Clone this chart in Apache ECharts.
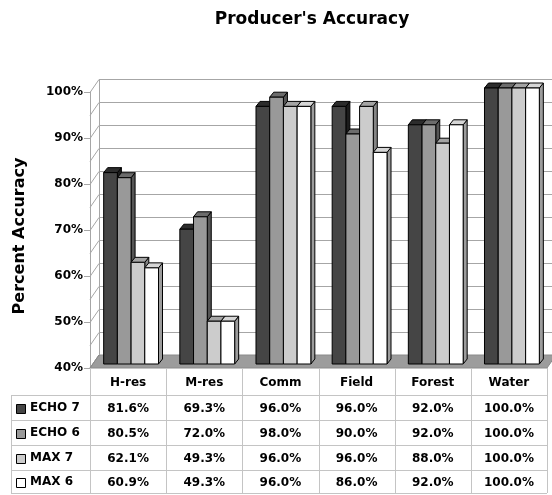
<!DOCTYPE html>
<html>
<head>
<meta charset="utf-8">
<script src="https://cdn.jsdelivr.net/npm/echarts@6/dist/echarts.min.js"></script>
<style>
  html, body { margin: 0; padding: 0; background: #fff; }
  #chart { width: 552px; height: 495px; }
</style>
</head>
<body>
<div id="chart"></div>
<script>
// Producer's accuracy per land-cover class, four classifiers
const categories = ['H-res', 'M-res', 'Comm', 'Field', 'Forest', 'Water'];
const seriesNames = ['ECHO 7', 'ECHO 6', 'MAX 7', 'MAX 6'];
const echo7 = [81.6, 69.3, 96.0, 96.0, 92.0, 100.0];
const echo6 = [80.5, 72.0, 98.0, 90.0, 92.0, 100.0];
const max7  = [62.1, 49.3, 96.0, 96.0, 88.0, 100.0];
const max6  = [60.9, 49.3, 96.0, 86.0, 92.0, 100.0];
const yMin = 40, yMax = 100, yStep = 10, gridStep = 5;

const seriesValues = [echo7, echo6, max7, max6];

// shading for the pseudo-3D bars: front, top and right faces
const frontFill = ['#454545', '#999999', '#cccccc', '#ffffff'];
const topFill   = ['#2c2c2c', '#6c6c6c', '#a4a4a4', '#d6d6d6'];
const sideFill  = ['#1c1c1c', '#555555', '#858585', '#9c9c9c'];

const FONT = 'DejaVu Sans';
const WALL = [9, -13];     // depth offset of the back wall
const BAR_F = [3, -4];     // depth offset of a bar's front face
const BAR_B = [7, -9];     // depth offset of a bar's back face

// table rows (pixel layout)
const TABLE_LEFT = 11;
const headerTop = 368;
const rowLines = [395, 420, 445, 470, 493];

const chart = echarts.init(document.getElementById('chart'), null, { renderer: 'canvas' });

function frameItem(params, api) {
  const cs = params.coordSys;
  const x0 = cs.x, x1 = cs.x + cs.width;
  const y = v => api.coord([0, v])[1];
  const kids = [];
  const gridColor = '#a6a6a6';
  // back wall
  kids.push({ type: 'rect', shape: { x: x0 + WALL[0], y: y(yMax) + WALL[1], width: cs.width, height: y(yMin) - y(yMax) },
    style: { fill: '#fff', stroke: null } });
  // floor
  kids.push({ type: 'polygon', shape: { points: [[x0, y(yMin)], [x1, y(yMin)], [x1 + WALL[0], y(yMin) + WALL[1]], [x0 + WALL[0], y(yMin) + WALL[1]]] },
    style: { fill: '#9c9c9c', stroke: '#8a8a8a', lineWidth: 1 } });
  // gridlines on side wall and back wall
  for (let v = yMin + gridStep; v <= yMax; v += gridStep) {
    const yy = Math.round(y(v)) + 0.5;
    kids.push({ type: 'line', shape: { x1: x0, y1: yy, x2: x0 + WALL[0], y2: yy + WALL[1] }, style: { stroke: gridColor, lineWidth: 1 } });
    kids.push({ type: 'line', shape: { x1: x0 + WALL[0], y1: yy + WALL[1], x2: x1 + WALL[0], y2: yy + WALL[1] }, style: { stroke: gridColor, lineWidth: 1 } });
  }
  // back edge of the side wall
  kids.push({ type: 'line', shape: { x1: x0 + WALL[0] + 0.5, y1: y(yMax) + WALL[1], x2: x0 + WALL[0] + 0.5, y2: y(yMin) + WALL[1] }, style: { stroke: gridColor, lineWidth: 1 } });
  kids.push({ type: 'line', shape: { x1: x0, y1: y(yMin), x2: x0 + WALL[0], y2: y(yMin) + WALL[1] }, style: { stroke: '#8a8a8a', lineWidth: 1 } });

  // data table grid
  const lineColor = '#c4c4c4';
  const bw = api.size([1, 0])[0];
  for (let i = 0; i <= categories.length; i++) {
    const xx = Math.round(x0 + i * bw) + 0.5;
    kids.push({ type: 'line', shape: { x1: xx, y1: headerTop, x2: xx, y2: rowLines[rowLines.length - 1] }, style: { stroke: lineColor, lineWidth: 1 } });
  }
  kids.push({ type: 'line', shape: { x1: TABLE_LEFT + 0.5, y1: rowLines[0], x2: TABLE_LEFT + 0.5, y2: rowLines[rowLines.length - 1] }, style: { stroke: lineColor, lineWidth: 1 } });
  rowLines.forEach(ly => {
    kids.push({ type: 'line', shape: { x1: TABLE_LEFT, y1: ly + 0.5, x2: x1, y2: ly + 0.5 }, style: { stroke: lineColor, lineWidth: 1 } });
  });
  return { type: 'group', children: kids };
}

function barItem(s) {
  return function (params, api) {
    const ci = api.value(0), v = api.value(1);
    const base = api.coord([ci, yMin]);
    const top = api.coord([ci, v]);
    const bw = api.size([1, 0])[0] * 0.72 / 4;
    const x = base[0] - 2 * bw + s * bw + BAR_F[0];
    const yb = base[1] + BAR_F[1], yt = top[1] + BAR_F[1];
    const dx = BAR_B[0] - BAR_F[0], dy = BAR_B[1] - BAR_F[1];
    const st = { stroke: '#000', lineWidth: 1 };
    return { type: 'group', children: [
      { type: 'polygon', shape: { points: [[x + bw, yt], [x + bw + dx, yt + dy], [x + bw + dx, yb + dy], [x + bw, yb]] },
        style: Object.assign({ fill: sideFill[s] }, st) },
      { type: 'polygon', shape: { points: [[x, yt], [x + dx, yt + dy], [x + bw + dx, yt + dy], [x + bw, yt]] },
        style: Object.assign({ fill: topFill[s] }, st) },
      { type: 'rect', shape: { x: x, y: yt, width: bw, height: yb - yt },
        style: Object.assign({ fill: frontFill[s] }, st) }
    ] };
  };
}

function tableItem(params, api) {
  const ci = api.value(0);
  const cx = api.coord([ci, yMin])[0];
  const kids = seriesValues.map((vals, r) => ({
    type: 'text',
    style: {
      x: cx, y: (rowLines[r] + rowLines[r + 1]) / 2 + 1,
      text: vals[ci].toFixed(1) + '%',
      align: 'center', verticalAlign: 'middle',
      font: 'bold 12px "' + FONT + '"', fill: '#000'
    }
  }));
  return { type: 'group', children: kids };
}

const series = [
  { type: 'custom', name: 'frame', data: [[0]], renderItem: frameItem, silent: true, z: 1, clip: false }
];
seriesValues.forEach((vals, s) => {
  series.push({
    type: 'custom', name: seriesNames[s], renderItem: barItem(s), z: 3, clip: false,
    data: vals.map((v, i) => [i, v])
  });
});
series.push({ type: 'custom', name: 'table', data: categories.map((c, i) => [i]), renderItem: tableItem, z: 4, clip: false, silent: true });

// row headers with colour keys
const graphic = [];
seriesNames.forEach((name, r) => {
  const cy = (rowLines[r] + rowLines[r + 1]) / 2 + 1;
  graphic.push({ type: 'rect', left: 16, top: Math.round(cy - 4.5), shape: { width: 9, height: 9 },
    style: { fill: frontFill[r], stroke: '#000', lineWidth: 1 } });
  graphic.push({ type: 'text', left: 30, top: Math.round(cy - 7),
    style: { text: name, font: 'bold 12px "' + FONT + '"', fill: '#000' } });
});

chart.setOption({
  animation: false,
  backgroundColor: '#fff',
  title: {
    text: "Producer's Accuracy",
    left: 307, top: 6, textAlign: 'center',
    textStyle: { fontFamily: FONT, fontWeight: 'bold', fontSize: 17, color: '#000' }
  },
  grid: { left: 90, right: 5, top: 92, bottom: 127 },
  xAxis: {
    type: 'category',
    data: categories,
    axisLine: { show: false },
    axisTick: { show: false },
    axisLabel: { margin: 9, fontFamily: FONT, fontWeight: 'bold', fontSize: 12, color: '#000' },
    splitLine: { show: false }
  },
  yAxis: {
    type: 'value',
    min: yMin, max: yMax, interval: yStep,
    name: 'Percent Accuracy',
    nameLocation: 'middle',
    nameGap: 62,
    nameTextStyle: { fontFamily: FONT, fontWeight: 'bold', fontSize: 16, color: '#000', padding: [0, 0, 0, -12] },
    axisLine: { show: true, lineStyle: { color: '#a6a6a6', width: 1 } },
    axisTick: { show: true, length: 6, lineStyle: { color: '#a6a6a6' } },
    axisLabel: { formatter: '{value}%', margin: 7, fontFamily: FONT, fontWeight: 'bold', fontSize: 12, color: '#000' },
    splitLine: { show: false }
  },
  graphic: graphic,
  series: series
});
</script>
</body>
</html>
